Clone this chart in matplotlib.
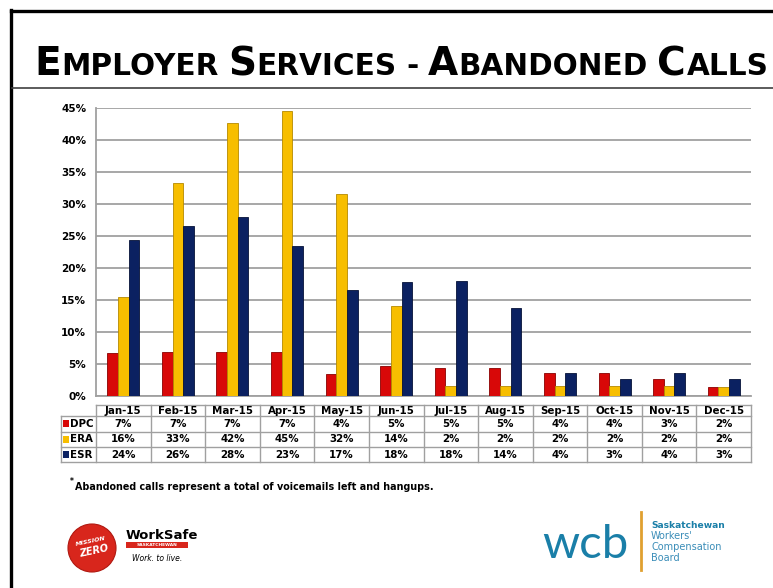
import matplotlib
matplotlib.use("Agg")
import matplotlib.pyplot as plt
import matplotlib.transforms as mtransforms
from matplotlib.lines import Line2D
from matplotlib.patches import Ellipse, Rectangle
from matplotlib.ticker import PercentFormatter
import numpy as np

# Data (percent of calls abandoned)
months = ["Jan-15", "Feb-15", "Mar-15", "Apr-15", "May-15", "Jun-15",
          "Jul-15", "Aug-15", "Sep-15", "Oct-15", "Nov-15", "Dec-15"]
series = ["DPC", "ERA", "ESR"]
dpc = [6.8, 7.0, 7.0, 6.9, 3.5, 4.7, 4.5, 4.5, 3.6, 3.6, 2.7, 1.5]
era = [15.5, 33.4, 42.7, 44.6, 31.6, 14.1, 1.6, 1.6, 1.6, 1.6, 1.6, 1.5]
esr = [24.4, 26.6, 28.0, 23.5, 16.6, 17.8, 18.0, 13.8, 3.6, 2.7, 3.6, 2.7]
dpc_labels = ["7%", "7%", "7%", "7%", "4%", "5%", "5%", "5%", "4%", "4%", "3%", "2%"]
era_labels = ["16%", "33%", "42%", "45%", "32%", "14%", "2%", "2%", "2%", "2%", "2%", "2%"]
esr_labels = ["24%", "26%", "28%", "23%", "17%", "18%", "18%", "14%", "4%", "3%", "4%", "3%"]
colors = ["#D80808", "#F7BE00", "#0B2161"]
edges = ["#8A0000", "#B58A00", "#061238"]

W, H = 773, 588


def fx(x):
    return x / W


def fy(y):
    return 1 - y / H


fig = plt.figure(figsize=(W / 100, H / 100), dpi=100)
fig.patch.set_facecolor("white")

# slide frame
fig.add_artist(Line2D([fx(11), 1], [fy(10.5), fy(10.5)], color="black", lw=2.4))
fig.add_artist(Line2D([fx(11), fx(11)], [fy(9.5), 0], color="black", lw=2.4))
fig.add_artist(Line2D([fx(12), 1], [fy(88), fy(88)], color="#404040", lw=1.2))

# title in small caps, built piece by piece
renderer = fig.canvas.get_renderer()
big, small = 29.6, 22.4
parts = [("E", 1), ("MPLOYER", 0), (None, 0), ("S", 1), ("ERVICES", 0), (None, 0),
         ("-", 0), (None, 0), ("A", 1), ("BANDONED", 0), (None, 0), ("C", 1), ("ALLS", 0)]


def draw_title(scale):
    x = 34
    drawn = []
    for txt, is_big in parts:
        size = (big if is_big else small) * scale
        if txt is None:
            x += 0.30 * size * 100 / 72
            continue
        t = fig.text(fx(x), fy(75), txt, fontsize=size, fontweight="bold",
                     family="DejaVu Sans", ha="left", va="baseline")
        bb = t.get_window_extent(renderer=renderer)
        x += bb.width + 0.6 * scale
        drawn.append(t)
    return x, drawn


end, items = draw_title(1.0)
for t in items:
    t.remove()
scale = (769 - 34) / (end - 34)
draw_title(scale)

# chart area
ax = fig.add_axes([fx(96), fy(396.3), (751 - 96) / W, (396.3 - 108.3) / H])
x = np.arange(len(months))
bw = 0.195
for i, vals in enumerate([dpc, era, esr]):
    ax.bar(x + (i - 1) * bw, vals, width=bw, color=colors[i], edgecolor=edges[i],
           linewidth=0.6, zorder=3)

ax.set_xlim(-0.5, len(months) - 0.5)
ax.set_ylim(0, 45)
ax.set_yticks(np.arange(0, 46, 5))
ax.yaxis.set_major_formatter(PercentFormatter(xmax=100, decimals=0))
ax.set_xticks([])
ax.tick_params(axis="y", length=0, pad=7, labelsize=7.5)
for lbl in ax.get_yticklabels():
    lbl.set_fontweight("bold")
ax.yaxis.grid(True, color="#A0A0A0", lw=1.3, zorder=0)
ax.set_axisbelow(True)
for s in ["top", "right"]:
    ax.spines[s].set_visible(False)
ax.spines["left"].set_color("#A0A0A0")
ax.spines["bottom"].set_color("#A0A0A0")
ax.spines["left"].set_linewidth(1.3)
ax.spines["bottom"].set_linewidth(1.3)

# data table below the chart
blend = mtransforms.blended_transform_factory(ax.transData, fig.transFigure)
grid_c = "#A0A0A0"
row_y = [405, 416, 431.7, 447.3, 461.7]
fig.add_artist(Line2D([fx(96), fx(751)], [fy(row_y[0])] * 2, color=grid_c, lw=1))
for yy in row_y[1:]:
    fig.add_artist(Line2D([fx(61), fx(751)], [fy(yy)] * 2, color=grid_c, lw=1))
for b in np.arange(-0.5, len(months), 1.0):
    fig.add_artist(Line2D([b, b], [fy(row_y[0]), fy(row_y[-1])], color=grid_c,
                          lw=1, transform=blend))
fig.add_artist(Line2D([fx(61), fx(61)], [fy(row_y[1]), fy(row_y[-1])], color=grid_c, lw=1))

for i, m in enumerate(months):
    fig.text(i, fy(411), m, transform=blend, ha="center", va="center",
             fontsize=7.4, fontweight="bold")

row_labels = [dpc_labels, era_labels, esr_labels]
for r, name in enumerate(series):
    yc = (row_y[r + 1] + row_y[r + 2]) / 2
    fig.add_artist(Rectangle((fx(63), fy(yc + 3.5)), 6 / W, 7 / H,
                             facecolor=colors[r], edgecolor="none"))
    fig.text(fx(70), fy(yc), name, ha="left", va="center", fontsize=7.4,
             fontweight="bold")
    for i, lab in enumerate(row_labels[r]):
        fig.text(i, fy(yc), lab, transform=blend, ha="center", va="center",
                 fontsize=7.4, fontweight="bold")

# footnote
fig.text(fx(70), fy(484), "*", fontsize=5.5, fontweight="bold", ha="left", va="baseline")
fig.text(fx(75), fy(490), "Abandoned calls represent a total of voicemails left and hangups.",
         fontsize=6.9, fontweight="bold", ha="left", va="baseline")

# WorkSafe / Mission Zero logo
fig.add_artist(Ellipse((fx(92), fy(548)), 48 / W, 48 / H, facecolor="#D8261C",
                       edgecolor="#B01810", lw=0.8))
fig.text(fx(91), fy(541), "MISSION", color="white", fontsize=4.6, fontweight="bold",
         style="italic", ha="center", va="center", rotation=12)
fig.text(fx(94), fy(551), "ZERO", color="white", fontsize=7, fontweight="bold",
         style="italic", ha="center", va="center", rotation=12)
fig.text(fx(126), fy(539), "WorkSafe", fontsize=9.5, fontweight="bold", ha="left",
         va="baseline", family="DejaVu Sans")
fig.add_artist(Rectangle((fx(126), fy(548)), 62 / W, 6 / H, facecolor="#D8261C",
                         edgecolor="none"))
fig.text(fx(157), fy(545), "SASKATCHEWAN", color="white", fontsize=3.2,
         fontweight="bold", ha="center", va="center")
fig.text(fx(157), fy(558.5), "Work. to live.", fontsize=5.5, style="italic",
         ha="center", va="center")

# WCB logo
teal = "#1A7FA8"
fig.text(fx(542), fy(558), "wcb", color=teal, fontsize=34, family="Lato",
         fontweight="normal", ha="left", va="baseline")
fig.add_artist(Line2D([fx(641), fx(641)], [fy(512), fy(570)], color="#E0A030", lw=2))
fig.text(fx(651), fy(528), "Saskatchewan", color=teal, fontsize=6.6, fontweight="bold",
         ha="left", va="baseline")
fig.text(fx(651), fy(539), "Workers'", color="#3A8DB8", fontsize=7, ha="left", va="baseline")
fig.text(fx(651), fy(550), "Compensation", color="#3A8DB8", fontsize=7, ha="left",
         va="baseline")
fig.text(fx(651), fy(561), "Board", color="#3A8DB8", fontsize=7, ha="left", va="baseline")

fig.savefig("out.png", dpi=100)
